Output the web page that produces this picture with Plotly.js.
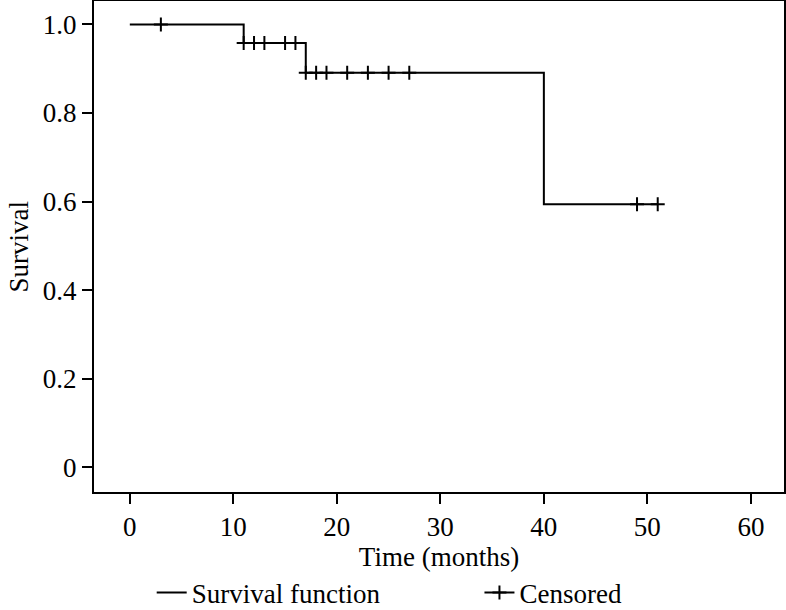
<!DOCTYPE html>
<html>
<head>
<meta charset="utf-8">
<script src="https://cdn.plot.ly/plotly-3.0.1.min.js"></script>
<style>
  body { margin: 0; background: #fff; }
  #plot { width: 786px; height: 610px; }
</style>
</head>
<body>
<div id="plot"></div>
<script>
// Kaplan-Meier curve
let stepTimes = [0, 11, 17, 40, 51];
let stepSurvival = [1.0, 0.958, 0.891, 0.594, 0.594];
let censoredTimes = [3, 11, 12, 13, 15, 16, 17, 18, 19, 21, 23, 25, 27, 49, 51];

let xTicks = [0, 10, 20, 30, 40, 50, 60];
let yTicks = [0, 0.2, 0.4, 0.6, 0.8, 1.0];
let yTickText = ['0', '0.2', '0.4', '0.6', '0.8', '1.0'];

// survival value at a censored time = level of the step curve there
function survivalAt(t) {
    let s = stepSurvival[0];
    for (let i = 0; i < stepTimes.length; i++) {
        if (stepTimes[i] <= t) s = stepSurvival[i];
    }
    return s;
}

// nulls between the censored points so no line joins them,
// but the legend still shows a line through the tick
let censX = [];
let censY = [];
censoredTimes.forEach(function (t) {
    censX.push(t, null);
    censY.push(survivalAt(t), null);
});

let font = '"Liberation Serif", "Times New Roman", serif';
let bigFont = { family: font, size: 27, color: 'black' };

let curve = {
    x: stepTimes,
    y: stepSurvival,
    mode: 'lines',
    line: { shape: 'hv', color: 'black', width: 2 },
    name: 'Survival function',
    legend: 'legend'
};

let censored = {
    x: censX,
    y: censY,
    mode: 'lines+markers',
    connectgaps: false,
    line: { color: 'black', width: 2 },
    marker: { symbol: 'cross-thin', size: 10, color: 'black', line: { color: 'black', width: 2 } },
    name: 'Censored',
    legend: 'legend2'
};

let legendBase = {
    xref: 'container', yref: 'container',
    xanchor: 'left', yanchor: 'middle',
    y: 0.028,
    bgcolor: 'rgba(0,0,0,0)',
    font: bigFont
};

let layout = {
    width: 786,
    height: 610,
    margin: { l: 94, r: 2, t: 1, b: 118, autoexpand: false },
    paper_bgcolor: 'white',
    plot_bgcolor: 'white',
    font: bigFont,
    showlegend: true,
    legend: Object.assign({}, legendBase, { x: 0.193 }),
    legend2: Object.assign({}, legendBase, { x: 0.61 }),
    xaxis: {
        range: [-3.46, 63.2],
        tickvals: xTicks,
        tickfont: bigFont,
        ticks: 'outside', ticklen: 10, tickwidth: 2, tickcolor: 'black',
        showline: true, mirror: true, linewidth: 2, linecolor: 'black',
        showgrid: false, zeroline: false, automargin: false,
        title: { text: 'Time (months)', font: bigFont, standoff: 0 }
    },
    yaxis: {
        range: [-0.056, 1.053],
        tickvals: yTicks,
        ticktext: yTickText,
        tickfont: bigFont,
        ticks: 'outside', ticklen: 10, tickwidth: 2, tickcolor: 'black',
        showline: true, mirror: true, linewidth: 2, linecolor: 'black',
        showgrid: false, zeroline: false, automargin: false
    },
    // y axis title as an annotation (the axis title lands mid-plot with two legends)
    annotations: [{
        text: 'Survival',
        xref: 'paper', yref: 'paper',
        x: -0.11, y: 0.5,
        xanchor: 'center', yanchor: 'middle',
        textangle: -90,
        showarrow: false,
        font: bigFont
    }]
};

Plotly.newPlot('plot', [curve, censored], layout, { displayModeBar: false, staticPlot: true });
</script>
</body>
</html>
